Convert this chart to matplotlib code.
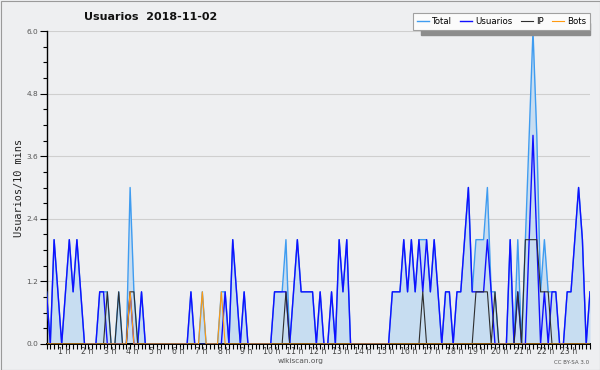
import numpy as np
import matplotlib
matplotlib.use('Agg')
import matplotlib.pyplot as plt
from matplotlib.patches import Rectangle
from matplotlib.ticker import MultipleLocator

# one value per 10 minute slot, 144 slots for the day
usuarios = [1, 0, 2, 1, 0, 1, 2, 1, 2, 1, 0, 0,
            0, 0, 1, 1, 0, 0, 0, 0, 0, 0, 1, 0,
            0, 1, 0, 0, 0, 0, 0, 0, 0, 0, 0, 0,
            0, 0, 1, 0, 0, 0, 0, 0, 0, 0, 0, 1,
            0, 2, 1, 0, 1, 0, 0, 0, 0, 0, 0, 0,
            1, 1, 1, 1, 0, 1, 2, 1, 1, 1, 1, 0,
            1, 0, 0, 1, 0, 2, 1, 2, 0, 0, 0, 0,
            0, 0, 0, 0, 0, 0, 0, 1, 1, 1, 2, 1,
            2, 1, 2, 1, 2, 1, 2, 1, 0, 1, 1, 0,
            1, 1, 2, 3, 1, 1, 1, 1, 2, 1, 0, 0,
            0, 0, 2, 0, 1, 0, 0, 2, 4, 2, 0, 1,
            0, 1, 1, 0, 0, 1, 1, 2, 3, 2, 0, 1]

ip = [0, 0, 0, 0, 0, 0, 0, 0, 0, 0, 0, 0,
      0, 0, 0, 0, 1, 0, 0, 1, 0, 0, 1, 1,
      0, 0, 0, 0, 0, 0, 0, 0, 0, 0, 0, 0,
      0, 0, 0, 0, 0, 0, 0, 0, 0, 0, 0, 0,
      0, 0, 0, 0, 0, 0, 0, 0, 0, 0, 0, 0,
      0, 0, 0, 1, 0, 0, 0, 0, 0, 0, 0, 0,
      0, 0, 0, 0, 0, 0, 0, 0, 0, 0, 0, 0,
      0, 0, 0, 0, 0, 0, 0, 0, 0, 0, 0, 0,
      0, 0, 0, 1, 0, 0, 0, 0, 0, 0, 0, 0,
      0, 0, 0, 0, 0, 1, 1, 1, 1, 0, 1, 0,
      0, 0, 0, 0, 1, 0, 2, 2, 2, 2, 1, 1,
      1, 0, 0, 0, 0, 0, 0, 0, 0, 0, 0, 0]

bots = [0, 0, 0, 0, 0, 0, 0, 0, 0, 0, 0, 0,
        0, 0, 0, 0, 0, 0, 0, 0, 0, 0, 1, 0,
        0, 0, 0, 0, 0, 0, 0, 0, 0, 0, 0, 0,
        0, 0, 0, 0, 0, 1, 0, 0, 0, 0, 1, 0,
        0, 0, 0, 0, 0, 0, 0, 0, 0, 0, 0, 0,
        0, 0, 0, 0, 0, 0, 0, 0, 0, 0, 0, 0,
        0, 0, 0, 0, 0, 0, 0, 0, 0, 0, 0, 0,
        0, 0, 0, 0, 0, 0, 0, 0, 0, 0, 0, 0,
        0, 0, 0, 0, 0, 0, 0, 0, 0, 0, 0, 0,
        0, 0, 0, 0, 0, 0, 0, 0, 0, 0, 0, 0,
        0, 0, 0, 0, 0, 0, 0, 0, 0, 0, 0, 0,
        0, 0, 0, 0, 0, 0, 0, 0, 0, 0, 0, 0]

total = [1, 0, 2, 1, 0, 1, 2, 1, 2, 1, 0, 0,
         0, 0, 1, 1, 1, 0, 0, 1, 0, 0, 3, 1,
         0, 1, 0, 0, 0, 0, 0, 0, 0, 0, 0, 0,
         0, 0, 1, 0, 0, 1, 0, 0, 0, 0, 1, 1,
         0, 2, 1, 0, 1, 0, 0, 0, 0, 0, 0, 0,
         1, 1, 1, 2, 0, 1, 2, 1, 1, 1, 1, 0,
         1, 0, 0, 1, 0, 2, 1, 2, 0, 0, 0, 0,
         0, 0, 0, 0, 0, 0, 0, 1, 1, 1, 2, 1,
         2, 1, 2, 2, 2, 1, 2, 1, 0, 1, 1, 0,
         1, 1, 2, 3, 1, 2, 2, 2, 3, 1, 1, 0,
         0, 0, 2, 0, 2, 0, 2, 4, 6, 4, 1, 2,
         1, 1, 1, 0, 0, 1, 1, 2, 3, 2, 0, 1]

hours = list(range(1, 24))
hour_labels = ['%d h' % h for h in hours]
ytick_values = [0.0, 1.2, 2.4, 3.6, 4.8, 6.0]

BG = '#eeeff1'
W, H = 600, 370

fig = plt.figure(figsize=(6, 3.7), dpi=100, facecolor=BG)
ax = fig.add_axes([46.5 / W, 1 - 344 / H, (590 - 46.5) / W, (344 - 31) / H])
ax.set_facecolor(BG)

x = np.arange(len(total))
ax.fill_between(x, total, 0, color='#c7ddf1', lw=0, zorder=2)
ax.plot(x, total, color='#3f9cf0', lw=1.0, zorder=3, label='Total')
ax.plot(x, usuarios, color='#1010ff', lw=1.0, zorder=4, label='Usuarios')
ax.plot(x, ip, color='#2e2e2e', lw=0.8, zorder=5, label='IP')
ax.plot(x, bots, color='#ff9a10', lw=0.8, zorder=6, label='Bots')

ax.set_xlim(0, len(total) - 1)
ax.set_ylim(0, 6)

for s in ['top', 'right']:
    ax.spines[s].set_visible(False)
ax.spines['left'].set_linewidth(1.0)
ax.spines['bottom'].set_linewidth(1.4)

ax.set_yticks(ytick_values)
ax.set_yticklabels(['%.1f' % v for v in ytick_values])
ax.yaxis.set_minor_locator(MultipleLocator(0.3))
ax.tick_params(axis='y', which='major', length=5, width=0.8, labelsize=5.3,
               labelcolor='#555555', pad=1)
ax.tick_params(axis='y', which='minor', length=3, width=0.8)
ax.grid(axis='y', color='#cfcfcf', lw=0.8, zorder=0)
ax.set_axisbelow(True)

ax.set_xticks([])
ax.xaxis.set_minor_locator(MultipleLocator(1))
ax.tick_params(axis='x', which='minor', length=3.5, width=0.8)
for h, lab in zip(hours, hour_labels):
    ax.text(h * 6 - 3, -0.06, lab, ha='left', va='top', fontsize=5.6,
            color='#444444', transform=ax.transData, clip_on=False)

ax.set_ylabel('Usuarios/10 mins', family='DejaVu Sans Mono', fontsize=7.4,
              color='#222222', labelpad=2)

fig.text(151 / W, 1 - 17 / H, 'Usuarios  2018-11-02', ha='center', va='center',
         fontsize=8, fontweight='bold', color='#111111')
fig.text(301 / W, 1 - 361 / H, 'wikiscan.org', ha='center', va='center',
         fontsize=5.3, color='#555555')
fig.text(589 / W, 1 - 362 / H, 'CC BY-SA 3.0', ha='right', va='center',
         fontsize=4, color='#555555')

# shadow bar under the legend box
fig.patches.append(Rectangle((421 / W, 1 - 35 / H), 169 / W, 12 / H,
                             transform=fig.transFigure, color='#8c8c8c', zorder=1))
leg = fig.legend(loc='upper right', bbox_to_anchor=(590 / W, 1 - 13 / H), ncol=4,
                 fontsize=6.2, frameon=True, fancybox=False, borderaxespad=0,
                 handlelength=1.4, handletextpad=0.4, columnspacing=0.9,
                 borderpad=0.45)
leg.get_frame().set_facecolor('#fbfbfb')
leg.get_frame().set_edgecolor('#a0a0a0')
leg.get_frame().set_linewidth(0.8)
leg.get_frame().set_alpha(1)
leg.set_zorder(3)

fig.patches.append(Rectangle((0.5 / W, 0.5 / H), 1 - 1 / W, 1 - 1 / H,
                             transform=fig.transFigure, fill=False,
                             edgecolor='#9a9a9a', lw=0.8))

fig.savefig('out.png', dpi=100, facecolor=BG)
